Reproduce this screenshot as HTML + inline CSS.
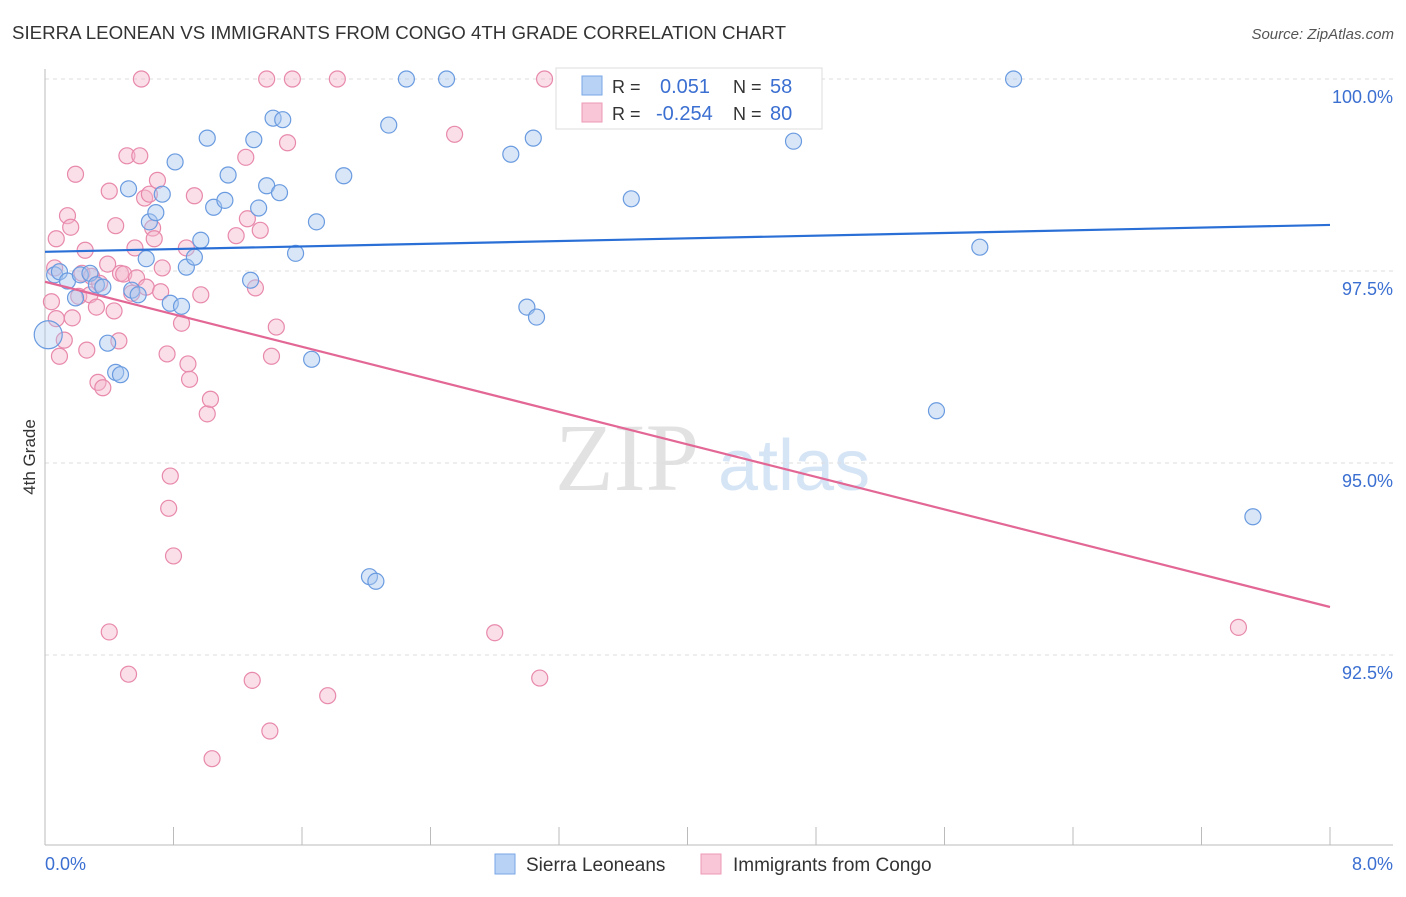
<!DOCTYPE html>
<html><head><meta charset="utf-8"><style>
body{margin:0;background:#fff;font-family:"Liberation Sans",sans-serif}
#w{position:relative;width:1406px;height:892px}
</style></head><body>
<div id="w">
<svg id="s" width="1406" height="892" xmlns="http://www.w3.org/2000/svg">
<text x="12" y="39" font-size="18" fill="#333" textLength="774" lengthAdjust="spacingAndGlyphs">SIERRA LEONEAN VS IMMIGRANTS FROM CONGO 4TH GRADE CORRELATION CHART</text>
<text x="1394" y="39" font-size="15" fill="#555" font-style="italic" text-anchor="end">Source: ZipAtlas.com</text>
<text x="35" y="457" font-size="17" fill="#333" text-anchor="middle" transform="rotate(-90 35 457)">4th Grade</text>
<text x="555" y="490" font-size="96" fill="#e2e2e2" font-family="Liberation Serif,serif">ZIP</text>
<text x="718" y="490" font-size="72" fill="#d6e5f6">atlas</text>
<g id="grid"></g><g id="marks"></g>
<g>
<rect x="556" y="68" width="266" height="61" fill="#fff" stroke="#ddd"/>
<rect x="582" y="76" width="20" height="19" fill="#b7d2f4" stroke="#7aa6e6"/>
<rect x="582" y="103" width="20" height="19" fill="#f8c6d6" stroke="#ec9ab7"/>
<text x="612" y="93" font-size="18" fill="#333">R =</text><text x="660" y="93" font-size="20" fill="#3b6fd1">0.051</text>
<text x="733" y="93" font-size="18" fill="#333">N =</text><text x="770" y="93" font-size="20" fill="#3b6fd1">58</text>
<text x="612" y="120" font-size="18" fill="#333">R =</text><text x="656" y="120" font-size="20" fill="#3b6fd1">-0.254</text>
<text x="733" y="120" font-size="18" fill="#333">N =</text><text x="770" y="120" font-size="20" fill="#3b6fd1">80</text>
</g>
<g>
<rect x="495" y="854" width="20" height="20" fill="#b7d2f4" stroke="#7aa6e6"/>
<text x="526" y="871" font-size="19" fill="#333">Sierra Leoneans</text>
<rect x="701" y="854" width="20" height="20" fill="#f8c6d6" stroke="#ec9ab7"/>
<text x="733" y="871" font-size="19" fill="#333">Immigrants from Congo</text>
</g>
</svg></div>
<script>
const xTicksVals=[0,1,2,3,4,5,6,7,8];
const yTicks=[100,97.5,95,92.5];
const yTickLabels=["100.0%","97.5%","95.0%","92.5%"];
const xEndLabels=["0.0%","8.0%"];
const blueX=[.02,.06,.09,.14,.19,.22,.28,.32,.36,.39,.44,.47,.52,.54,.58,.63,.65,.69,.73,.78,.81,.85,.88,.93,.97,1.01,1.05,1.12,1.14,1.28,1.30,1.33,1.38,1.42,1.46,1.48,1.56,1.66,1.69,1.86,2.02,2.06,2.14,2.25,2.50,2.90,3.00,3.04,3.06,3.65,3.72,4.32,4.66,5.55,5.82,6.03,7.52];
const blueY=[96.67,97.45,97.49,97.37,97.15,97.45,97.47,97.32,97.29,96.56,96.18,96.15,98.57,97.25,97.19,97.66,98.14,98.26,98.50,97.08,98.92,97.04,97.55,97.68,97.90,99.23,98.33,98.42,98.75,97.38,99.21,98.32,98.61,99.49,98.52,99.47,97.73,96.35,98.14,98.74,93.52,93.46,99.40,100,100,99.02,97.03,99.23,96.90,98.44,99.53,100,99.19,95.68,97.81,100,94.30];
const pinkX=[.04,.06,.07,.09,.07,.12,.14,.16,.17,.19,.21,.23,.25,.26,.28,.29,.32,.33,.34,.36,.39,.40,.40,.43,.44,.46,.47,.49,.52,.51,.54,.56,.57,.59,.60,.62,.63,.65,.67,.68,.70,.72,.73,.76,.78,.77,.80,.85,.88,.89,.90,.93,.97,1.01,1.03,1.04,1.19,1.25,1.26,1.29,1.31,1.34,1.38,1.40,1.41,1.44,1.51,1.54,1.76,1.82,2.55,2.80,3.08,3.11,7.43];
const pinkY=[97.10,97.54,96.88,96.39,97.92,96.60,98.22,98.07,96.89,98.76,97.17,97.47,97.77,96.47,97.19,97.43,97.03,96.05,97.34,95.98,97.59,98.54,92.80,96.98,98.09,96.59,97.47,97.46,92.25,99.0,97.21,97.80,97.41,99.0,100,98.45,97.29,98.50,98.06,97.92,98.68,97.23,97.54,96.42,94.83,94.41,93.79,96.82,97.80,96.29,96.09,98.48,97.19,95.64,95.83,91.15,97.96,98.98,98.18,92.17,97.28,98.03,100,91.51,96.39,96.77,99.17,100,91.97,100,99.28,92.79,92.20,100,92.86];
const blueTrend=[97.75,98.10];
const pinkTrend=[97.36,93.125];
const X=v=>45+v*160.625, Y=v=>79+(100-v)*76.8;
const NS="http://www.w3.org/2000/svg", s=document.getElementById('s');
const grid=document.getElementById('grid'), marks=document.getElementById('marks');
function mk(t,a,p){const e=document.createElementNS(NS,t);for(const k in a)e.setAttribute(k,a[k]);p.appendChild(e);return e;}
yTicks.forEach((v,i)=>{
 const l=mk('line',{x1:45,x2:1393,y1:Y(v),y2:Y(v),stroke:'#ddd','stroke-dasharray':'4 4'},grid);
 
 
 const t=mk('text',{x:1393,y:Y(v)+24,'font-size':18,fill:'#3b6fd1','text-anchor':'end'},grid);t.textContent=yTickLabels[i];
 
 
});
const ax=mk('line',{x1:45,x2:45,y1:69,y2:845,stroke:'#bbb'},grid);


const bx=mk('line',{x1:45,x2:1393,y1:845,y2:845,stroke:'#bbb'},grid);


for(let k=0;k<=10;k++){const v=k*0.8;const t=mk('line',{x1:X(v),x2:X(v),y1:827,y2:845,stroke:'#bbb'},grid);
 
 }
[[0,'start',45],[8,'end',1393]].forEach((d,i)=>{const t=mk('text',{x:d[2],y:870,'font-size':18,fill:'#3b6fd1','text-anchor':d[1]},grid);t.textContent=xEndLabels[i];
 
 });
function pts(xs,ys,fill,stroke,name){xs.forEach((x,i)=>{const big=(i===0&&name==='blue-point');
 const c=mk('circle',{cx:X(x),cy:Y(ys[i]),r:big?14:8,fill:fill,'fill-opacity':big?0.35:0.45,stroke:stroke,'stroke-width':1.2},marks);
 
 });}
pts(pinkX,pinkY,'#f5b5cb','#e889ab','pink-point');
pts(blueX,blueY,'#a9c8f0','#6a9be0','blue-point');
const bl=mk('line',{x1:X(0),y1:Y(blueTrend[0]),x2:X(8),y2:Y(blueTrend[1]),stroke:'#2a6fd6','stroke-width':2.2},marks);


const pl=mk('line',{x1:X(0),y1:Y(pinkTrend[0]),x2:X(8),y2:Y(pinkTrend[1]),stroke:'#e36795','stroke-width':2.2},marks);


</script>
</body></html>
